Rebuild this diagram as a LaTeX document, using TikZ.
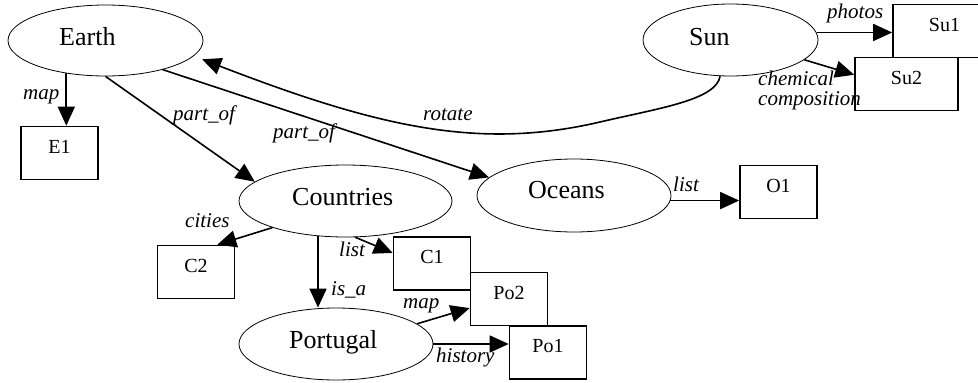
\documentclass[tikz,border=0pt]{standalone}
\usepackage{fontspec}
\setmainfont{Liberation Serif}
\usetikzlibrary{arrows.meta, shapes}

\begin{document}
\begin{tikzpicture}[x=1pt, y=-1pt,
    entity/.style={ellipse, draw=black, line width=0.8pt, inner sep=0pt, minimum width=194pt, minimum height=72pt},
    record/.style={rectangle, draw=black, fill=white, line width=1.6pt, minimum width=77pt, minimum height=53pt, text height=7pt, text depth=7pt, font=\fontsize{20}{24}\selectfont},
    enttext/.style={anchor=base west, inner sep=0pt, font=\fontsize{26}{30}\selectfont},
    rel/.style={anchor=base west, inner sep=0pt, font=\itshape\fontsize{21}{20}\selectfont}]
\useasboundingbox (0,0) rectangle (978,383);
\clip (0,0) rectangle (978,383);
%\tikzstyle{place}=[circle,draw,thick]
\begin{scope}
    \node[entity, minimum width=195pt, minimum height=71pt] (earth) at (105.5,40.5) {};
    \node[entity, minimum width=175pt] (sun) at (730.5,40) {};
    \node[entity, minimum width=213pt] (countries) at (345.5,201) {};
    \node[entity, minimum height=73pt] (oceans) at (574,195.5) {};
    \node[entity] (portugal) at (336,344) {};

    \node[enttext] (earthtxt) at (59,45) {Earth};
    \node[enttext] (suntxt) at (689,45) {Sun};
    \node[enttext] (countriestxt) at (292,205) {Countries};
    \node[enttext] (oceanstxt) at (528,198) {Oceans};
    \node[enttext] (portugaltxt) at (289,348) {Portugal};

    \node[record] (e1) at (59.5,153) {E1};
    \node[record] (c2) at (196,272) {C2};
    \node[record] (c1) at (432,263.5) {C1};
    \node[record] (po2) at (509,299) {Po2};
    \node[record] (po1) at (548,352.5) {Po1};
    \node[record] (o1) at (778.5,192) {O1};
    \node[record, minimum width=103pt] (su1) at (944.5,31) {Su1};
    \node[record, minimum width=103pt] (su2) at (906.5,84) {Su2};
\end{scope}

\begin{scope}[>={Triangle[length=19pt,width=17pt]},
              every edge/.style={draw=black, line width=1.6pt}]
    \path [->] (earth.220) edge (earth.220 |- e1.north);
    \path [->] (earth.south) edge (countries.168);
    \path [->] (earth.-27) edge (oceans.168);
    \path [->] (sun.5) edge (sun.5 -| su1.west);
    \path [->] (sun.-15) edge (su2.170);
    \path [->] (oceans.-3) edge (oceans.-3 -| o1.west);
    \path [->] (countries.200) edge (c2.52);
    \path [->] (countries.-75) edge (c1.165);
    \path [->] (countries.232) edge (countries.232 |- portugal.north);
    \path [->] (portugal.14) edge (po2.193);
    \path [->] (portugal.east) edge (portugal.east -| po1.west);
    \draw [->, line width=1.6pt, shorten >=9pt] (sun.254) .. controls (716,100) and (660,108) .. (600,122)
        .. controls (480,150) and (380,128) .. (earth.-10);
\end{scope}

\node[rel] (lmap) at (23,99) {map};
\node[rel] (lpartcountries) at (173,120) {part\_of};
\node[rel] (lpartoceans) at (273,138) {part\_of};
\node[rel] (lrotate) at (423,120) {rotate};
\node[rel] (lphotos) at (827,18) {photos};
\node[rel] (lchemical) at (758,85) {chemical};
\node[rel] (lcomposition) at (758,105) {composition};
\node[rel] (llistoceans) at (673,191) {list};
\node[rel] (lcities) at (185,227) {cities};
\node[rel] (llistcountries) at (339,256) {list};
\node[rel] (lisa) at (331,295) {is\_a};
\node[rel] (lmapportugal) at (403,308) {map};
\node[rel] (lhistory) at (436,362) {history};
\end{tikzpicture}
\end{document}
